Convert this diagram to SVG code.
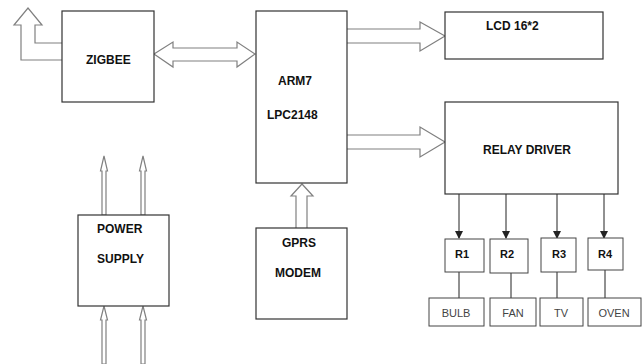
<svg xmlns="http://www.w3.org/2000/svg" width="642" height="364" viewBox="0 0 642 364">
<defs>
<style>
.box{fill:#fff;stroke:#333;stroke-width:1.2}
.sbox{fill:#fff;stroke:#444;stroke-width:1}
.blk{fill:#fff;stroke:#808080;stroke-width:1.2}
.lbl{font-family:"Liberation Sans",Arial,sans-serif;font-weight:bold;font-size:12px;fill:#111}
.rl{font-family:"Liberation Sans",Arial,sans-serif;font-weight:bold;font-size:11px;fill:#111;text-anchor:middle}
.dl{font-family:"Liberation Sans",Arial,sans-serif;font-size:11px;fill:#444;text-anchor:middle}
.ln{stroke:#222;stroke-width:1;fill:none}
</style>
<marker id="ah" markerWidth="8" markerHeight="8" refX="7" refY="4" orient="auto" markerUnits="userSpaceOnUse">
<path d="M0,0 L8,4 L0,8 z" fill="#222"/>
</marker>
</defs>
<rect width="642" height="364" fill="#fff"/>
<g id="connectors">
<path class="blk" d="M62,43 H35 V25 H42 L28,8 L14,25 H21 V60 H62"/>
<path class="blk" d="M154,54 L173,42 V48 H237 V42 L255,54 L237,67 V61 H173 V67 Z"/>
<path class="blk" d="M347,29 H420 V22 L445,36 L420,51 V43 H347"/>
<path class="blk" d="M347,135 H420 V127 L445,142 L420,157 V149 H347"/>
<path class="blk" d="M296,228 V196 H291 L302,184 L313,196 H307 V228"/>
<path class="blk" stroke-width="1" d="M104,156 L107.5,171 H106 V215 H102 V171 H100.5 Z"/>
<path class="blk" stroke-width="1" d="M143,156 L146.5,171 H145 V215 H141 V171 H139.5 Z"/>
<path class="blk" stroke-width="1" d="M104,306 L107.5,320 H106 V364 H102 V320 H100.5 Z"/>
<path class="blk" stroke-width="1" d="M143,306 L146.5,320 H145 V364 H141 V320 H139.5 Z"/>
<line class="ln" x1="459" y1="194" x2="459" y2="238" marker-end="url(#ah)"/>
<line class="ln" x1="506" y1="194" x2="506" y2="238" marker-end="url(#ah)"/>
<line class="ln" x1="557" y1="194" x2="557" y2="238" marker-end="url(#ah)"/>
<line class="ln" x1="604" y1="194" x2="604" y2="238" marker-end="url(#ah)"/>
<line class="ln" x1="459" y1="272" x2="459" y2="298"/>
<line class="ln" x1="511" y1="273" x2="511" y2="298"/>
<line class="ln" x1="557" y1="272" x2="557" y2="298"/>
<line class="ln" x1="605" y1="270" x2="605" y2="298"/>
</g>
<g id="zigbee"><rect class="box" x="62" y="11" width="92" height="91"/><text class="lbl" x="86" y="64">ZIGBEE</text></g>
<g id="arm7"><rect class="box" x="256" y="11" width="91" height="172"/><text class="lbl" x="278" y="85">ARM7</text><text class="lbl" x="267" y="119">LPC2148</text></g>
<g id="lcd"><rect class="box" x="445" y="12" width="158" height="47"/><text class="lbl" x="486" y="30">LCD 16*2</text></g>
<g id="relay"><rect class="box" x="445" y="102" width="173" height="92"/><text class="lbl" x="483" y="154">RELAY DRIVER</text></g>
<g id="power"><rect class="box" x="78" y="215" width="91" height="91"/><text class="lbl" x="97" y="233">POWER</text><text class="lbl" x="97" y="263">SUPPLY</text></g>
<g id="gprs"><rect class="box" x="256" y="228" width="91" height="91"/><text class="lbl" x="282" y="247">GPRS</text><text class="lbl" x="275" y="277">MODEM</text></g>
<g id="r1"><rect class="sbox" x="445" y="239" width="39" height="33"/><text class="rl" x="462" y="258">R1</text></g>
<g id="r2"><rect class="sbox" x="490" y="239" width="38" height="34"/><text class="rl" x="507" y="258">R2</text></g>
<g id="r3"><rect class="sbox" x="541" y="238" width="35" height="34"/><text class="rl" x="559" y="258">R3</text></g>
<g id="r4"><rect class="sbox" x="588" y="238" width="35" height="32"/><text class="rl" x="605" y="258">R4</text></g>
<g id="bulb"><rect class="sbox" x="429" y="298" width="55" height="28"/><text class="dl" x="456" y="317">BULB</text></g>
<g id="fan"><rect class="sbox" x="490" y="298" width="46" height="28"/><text class="dl" x="513" y="317">FAN</text></g>
<g id="tv"><rect class="sbox" x="540" y="298" width="43" height="28"/><text class="dl" x="561" y="317">TV</text></g>
<g id="oven"><rect class="sbox" x="588" y="298" width="53" height="28"/><text class="dl" x="614" y="317">OVEN</text></g>
</svg>
